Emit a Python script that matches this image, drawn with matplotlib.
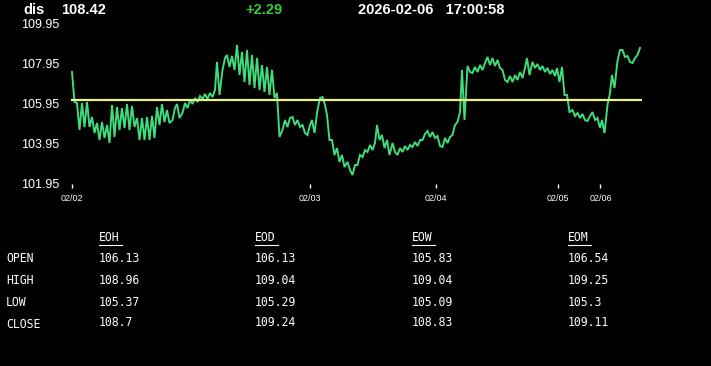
import numpy as np
import matplotlib
matplotlib.use("Agg")
import matplotlib.pyplot as plt

symbol = "dis"
last_price = "108.42"
change = "+2.29"
timestamp = "2026-02-06   17:00:58"
ref_price = 106.13

# per-interval high / low envelope of the intraday trace
hi = [107.55, 106.0, 106.0, 106.05, 105.3, 105.0, 105.05, 104.9, 105.9, 105.8,
      105.75, 105.95, 105.85, 105.25, 105.25, 105.3, 105.35, 105.8, 105.95, 105.65,
      105.75, 105.95, 106.0, 106.15, 106.25, 106.35, 106.45, 106.5, 106.65, 108.05,
      108.25, 108.4, 108.35, 108.9, 108.55, 108.65, 108.4, 108.25, 107.9, 107.8,
      107.65, 106.5, 105.15, 105.25, 105.3, 105.15, 104.9, 104.9, 105.15, 106.25,
      106.3, 105.4, 104.15, 103.75, 103.4, 103.05, 102.9, 103.4, 103.65, 103.9,
      104.0, 104.9, 104.4, 104.15, 104.0, 103.75, 103.85, 103.9, 104.05, 104.15,
      104.45, 104.6, 104.55, 104.35, 104.25, 104.3, 104.9, 105.55, 107.65, 107.85,
      107.8, 107.9, 108.0, 108.3, 108.25, 108.15, 107.65, 107.35, 107.4, 107.55,
      107.75, 108.25, 108.05, 107.95, 107.85, 107.75, 107.65, 107.75, 107.8, 106.4,
      105.65, 105.5, 105.45, 105.35, 105.55, 105.25, 105.15, 106.5, 107.4, 108.65,
      108.65, 108.35, 108.25, 108.75]
lo = [106.05, 104.65, 104.8, 104.8, 104.5, 104.15, 104.25, 104.0, 104.3, 104.65,
      104.75, 104.65, 104.8, 104.15, 104.15, 104.15, 104.25, 104.9, 105.05, 105.0,
      105.15, 105.25, 105.5, 105.75, 105.95, 106.05, 106.2, 106.2, 106.3, 106.4,
      107.65, 107.8, 107.65, 107.4, 107.05, 106.9, 106.75, 106.65, 106.55, 106.4,
      106.25, 104.3, 104.65, 104.8, 104.9, 104.8, 104.5, 104.4, 104.5, 105.65,
      105.9, 104.15, 103.4, 103.05, 102.8, 102.65, 102.4, 102.9, 103.3, 103.55,
      103.65, 104.15, 103.75, 103.4, 103.55, 103.4, 103.55, 103.65, 103.8, 103.85,
      104.15, 104.3, 104.25, 103.85, 103.8, 104.0, 104.4, 105.05, 105.15, 107.55,
      107.5, 107.55, 107.65, 107.9, 107.85, 107.75, 107.15, 107.05, 107.05, 107.15,
      107.25, 107.4, 107.75, 107.65, 107.55, 107.45, 107.35, 107.05, 106.4, 105.55,
      105.35, 105.25, 105.15, 105.1, 105.15, 104.75, 104.5, 105.9, 106.75, 108.1,
      108.3, 108.05, 108.0, 108.4]

yticks = [101.95, 103.95, 105.95, 107.95, 109.95]
xtick_pos = [0, 47.6, 72.8, 97.2, 105.7]
xtick_labels = ["02/02", "02/03", "02/04", "02/05", "02/06"]

col_headers = ["EOH", "EOD", "EOW", "EOM"]
row_labels = ["OPEN", "HIGH", "LOW", "CLOSE"]
table_vals = [
    ["106.13", "106.13", "105.83", "106.54"],
    ["108.96", "109.04", "109.04", "109.25"],
    ["105.37", "105.29", "105.09", "105.3"],
    ["108.7", "109.24", "108.83", "109.11"],
]

W, H = 711, 366
fig = plt.figure(figsize=(W / 100, H / 100), dpi=100, facecolor="black")

px_l, px_r, px_t, px_b = 70, 642, 24, 184
ax = fig.add_axes([px_l / W, (H - px_b) / H, (px_r - px_l) / W, (px_b - px_t) / H])
ax.set_facecolor("black")

# trace: noisy intervals zig-zag high/low, calm ones follow the trend
n = len(hi)
mid = [(h + l) / 2 for h, l in zip(hi, lo)]
xs, ys = [], []
for k in range(n):
    h, l = hi[k], lo[k]
    if h - l >= 0.6:
        xs += [k, k + 0.5]
        ys += [h, l]
    else:
        nxt = mid[k + 1] if k + 1 < n else mid[k]
        xs += [k + 0.1, k + 0.6]
        ys += [l, h] if nxt >= mid[k] else [h, l]
ax.plot(xs, ys, color="#3fdc7c", lw=1.4, solid_joinstyle="miter")
ax.axhline(ref_price, xmin=0.4 / 114.4, xmax=1, color="#eef08c", lw=1.6)

ax.set_xlim(-0.4, 114.0)
ax.set_ylim(101.95, 109.95)
for s in ax.spines.values():
    s.set_visible(False)
ax.set_yticks(yticks)
ax.set_yticklabels([f"{v:.2f}" for v in yticks], color="white",
                   fontsize=9, family="Liberation Sans")
ax.tick_params(axis="y", length=0, pad=8)
ax.set_xticks(xtick_pos)
ax.set_xticklabels(xtick_labels, color="white", fontsize=6.5, family="Liberation Sans")
ax.tick_params(axis="x", length=3, width=1, color="white", direction="out", pad=4)

# header
hy = 1 - 9.5 / H
hfont = dict(fontsize=10.5, fontweight="bold", family="Liberation Sans", va="center")
fig.text(23 / W, hy, symbol, color="white", **hfont)
fig.text(61 / W, hy, last_price, color="white", **hfont)
fig.text(245 / W, hy, change, color="#3cc83c", **hfont)
fig.text(358 / W, hy, timestamp, color="white", **hfont)

# table
col_x = [99, 255, 412, 568]
row_y = [259, 281, 303, 324]
mono = "DejaVu Sans Mono"
tsize = 8.3
for cx, hdr in zip(col_x, col_headers):
    fig.text(cx / W, 1 - 238 / H, hdr, color="white", fontsize=tsize,
             family=mono, va="center")
    fig.add_artist(plt.Line2D([cx / W, (cx + 23) / W], [1 - 244.5 / H, 1 - 244.5 / H],
                              color="white", lw=0.8))
for ry, lbl, vals in zip(row_y, row_labels, table_vals):
    fig.text(6 / W, 1 - ry / H, lbl, color="white", fontsize=tsize, family=mono, va="center")
    for cx, v in zip(col_x, vals):
        fig.text(cx / W, 1 - (ry - 1) / H, v, color="white", fontsize=tsize,
                 family=mono, va="center")

fig.savefig("out.png", dpi=100, facecolor="black")
